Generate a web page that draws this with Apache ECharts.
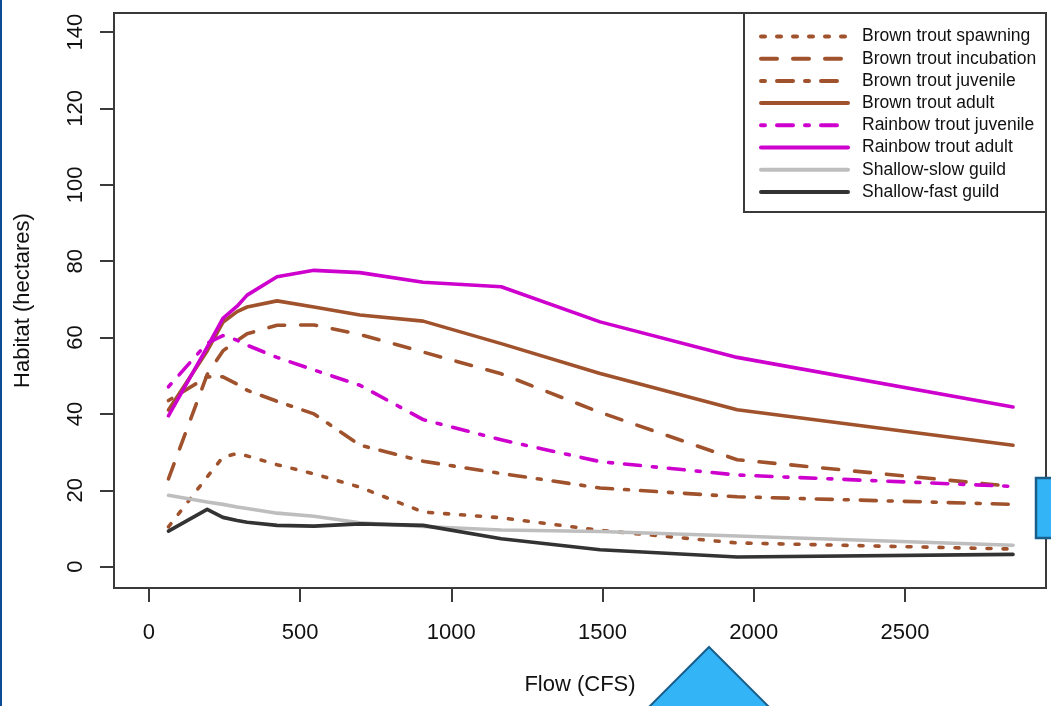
<!DOCTYPE html>
<html><head><meta charset="utf-8">
<script src="https://cdn.jsdelivr.net/npm/echarts@6/dist/echarts.min.js"></script>
<style>html,body{margin:0;padding:0;background:#fff}#c{width:1051px;height:706px}</style>
</head><body><div id="c"></div>
<script>
const flow = [65, 193, 245, 292, 325, 424, 546, 698, 907, 1165, 1492, 1945, 2857];
const brownSpawning   = [10.4, 23.5, 28.7, 29.6, 29.0, 26.7, 24.3, 20.8, 14.3, 12.8, 9.5, 6.2, 4.6];
const brownIncubation = [23.0, 50.3, 56.5, 59.2, 61.0, 63.2, 63.3, 60.8, 56.2, 50.5, 40.4, 28.0, 21.0];
const brownJuvenile   = [43.5, 49.7, 49.7, 47.8, 46.2, 43.3, 40.0, 31.8, 27.6, 24.4, 20.6, 18.3, 16.3];
const brownAdult      = [41.0, 56.5, 64.0, 66.8, 68.0, 69.6, 68.0, 65.9, 64.3, 58.4, 50.6, 41.1, 31.8];
const rainbowJuvenile = [47.1, 58.5, 60.5, 59.3, 58.0, 54.8, 51.5, 47.5, 38.5, 33.2, 27.5, 24.0, 21.0];
const rainbowAdult    = [39.5, 57.5, 65.0, 68.2, 71.1, 75.9, 77.6, 77.0, 74.5, 73.3, 64.1, 54.8, 41.8];
const shallowSlow     = [18.7, 16.9, 16.3, 15.6, 15.2, 14.0, 13.2, 11.5, 10.5, 9.6, 9.2, 8.0, 5.6];
const shallowFast     = [9.3, 15.0, 12.9, 12.1, 11.6, 10.8, 10.6, 11.2, 10.8, 7.3, 4.4, 2.5, 3.2];

const xTicks = [0, 500, 1000, 1500, 2000, 2500];
const yTicks = [0, 20, 40, 60, 80, 100, 120, 140];
const names = ['Brown trout spawning', 'Brown trout incubation', 'Brown trout juvenile', 'Brown trout adult',
  'Rainbow trout juvenile', 'Rainbow trout adult', 'Shallow-slow guild', 'Shallow-fast guild'];
const values = [brownSpawning, brownIncubation, brownJuvenile, brownAdult, rainbowJuvenile, rainbowAdult, shallowSlow, shallowFast];
const colors = ['#A0522D', '#A0522D', '#A0522D', '#A0522D', '#CD00CD', '#CD00CD', '#BEBEBE', '#333333'];
const dashes = [[4, 12], [16, 16], [4, 12, 16, 12], 'solid', [4, 12, 16, 12], 'solid', 'solid', 'solid'];

const FONT = '"Liberation Sans", Arial, sans-serif';
const chart = echarts.init(document.getElementById('c'), null, {renderer: 'canvas'});
const series = names.map((n, i) => ({
  name: n, type: 'line', symbol: 'none', showSymbol: false, silent: true, animation: false,
  data: flow.map((f, j) => [f, values[i][j]]),
  lineStyle: {color: colors[i], width: 3.6, type: dashes[i], cap: 'round', join: 'round'},
  itemStyle: {color: colors[i]}
}));

chart.setOption({
  animation: false,
  backgroundColor: '#fff',
  grid: {left: 114, right: 5, top: 13, bottom: 118, show: true, borderColor: '#3a3a3a', borderWidth: 2, backgroundColor: 'transparent'},
  xAxis: {
    type: 'value', min: -115, max: 2966,
    name: 'Flow (CFS)', nameLocation: 'middle', nameGap: 86,
    nameTextStyle: {fontSize: 22, fontFamily: FONT, color: '#111'},
    axisLine: {show: false, onZero: false}, splitLine: {show: false},
    axisTick: {show: true, inside: false, length: 14, lineStyle: {color: '#3a3a3a', width: 2}, customValues: xTicks},
    axisLabel: {fontSize: 22, fontFamily: FONT, color: '#111', margin: 34, customValues: xTicks, formatter: v => String(v)}
  },
  yAxis: {
    type: 'value', min: -5.6, max: 145,
    name: 'Habitat (hectares)', nameLocation: 'middle', nameGap: 80, nameRotate: 90,
    nameTextStyle: {fontSize: 22, fontFamily: FONT, color: '#111'},
    axisLine: {show: false, onZero: false}, splitLine: {show: false},
    axisTick: {show: true, inside: false, length: 14, lineStyle: {color: '#3a3a3a', width: 2}, customValues: yTicks},
    axisLabel: {fontSize: 22, fontFamily: FONT, color: '#111', margin: 27, rotate: 90, customValues: yTicks, formatter: v => String(v)}
  },
  legend: {
    orient: 'vertical', left: 744, top: 13, padding: [14.5, 10, 10, 15],
    itemWidth: 87, itemHeight: 14, itemGap: 4.2,
    data: names,
    textStyle: {fontSize: 17.5, fontFamily: FONT, color: '#111', padding: [0, 0, 0, 9]},
    lineStyle: {width: 4},
    itemStyle: {opacity: 0, color: 'transparent', borderWidth: 0},
    selectedMode: false
  },
  graphic: [
    {type: 'rect', shape: {x: 744, y: 13, width: 302, height: 199}, style: {fill: 'none', stroke: '#3a3a3a', lineWidth: 2}, z: 10},
    {type: 'rect', shape: {x: 0, y: 0, width: 2, height: 706}, style: {fill: '#0B4C94'}, z: 20},
    {type: 'polygon', shape: {points: [[709, 647], [769, 707], [737, 707], [737, 712], [682, 712], [682, 707], [649, 707]]},
      style: {fill: '#33B4F6', stroke: '#1A5E8A', lineWidth: 2}, z: 20},
    {type: 'rect', shape: {x: 1036, y: 478, width: 20, height: 60}, style: {fill: '#33B4F6', stroke: '#1A5E8A', lineWidth: 2.5}, z: 20}
  ],
  series: series
});
</script>
</body></html>
